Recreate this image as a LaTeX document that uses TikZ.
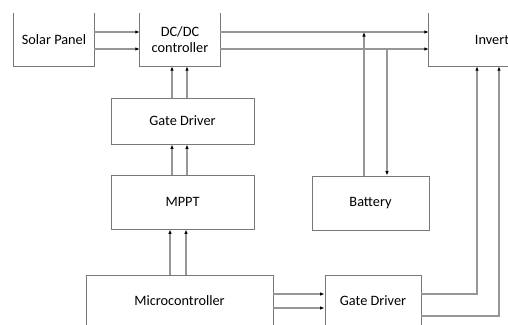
\documentclass[tikz,border=0pt]{standalone}
\usepackage{fontspec}
\setmainfont{Carlito}
\usetikzlibrary{arrows.meta}

\definecolor{boxgray}{RGB}{120,120,120}
\definecolor{linegray}{RGB}{150,150,150}

\tikzset{
    block/.style={draw=boxgray, line width=0.9pt, rectangle, inner sep=0pt, align=center,
        font=\fontsize{14.3}{16.5}\selectfont},
    openblock/.style={rectangle, inner sep=0pt, align=center,
        font=\fontsize{14.3}{16.5}\selectfont},
    arr/.style={draw=linegray, line width=1.3pt,
        -{Latex[length=4.5pt,width=3.5pt,fill=black,color=black]}},
    wire/.style={draw=linegray, line width=1.3pt}
}

\begin{document}
\begin{tikzpicture}[x=1pt, y=-1pt]
    \useasboundingbox (0,0) rectangle (508,324);
    \clip (0,0) rectangle (508,324);

    % top row (top edges cut off)
    \node[openblock, minimum width=80pt, minimum height=53pt] (sp) at (54,39.5) {Solar Panel};
    \node[openblock, minimum width=80pt, minimum height=53pt] (dc) at (180,39.5) {DC/DC\\controller};
    \node[openblock, minimum width=138pt, minimum height=53pt] (inv) at (498,39.5) {Inverter};
    \foreach \b in {sp, dc, inv}
        \draw[boxgray, line width=0.9pt] (\b.north west) -- (\b.south west) -- (\b.south east) -- (\b.north east);

    % blocks
    \node[block, minimum width=143pt, minimum height=46pt] (gd1) at (182.5,121) {Gate Driver};
    \node[block, minimum width=143pt, minimum height=54pt] (mppt) at (182.5,202) {MPPT};
    \node[block, minimum width=117pt, minimum height=54pt] (bat) at (370.5,203) {Battery};
    \node[block, minimum width=187pt, minimum height=52pt] (mc) at (179.5,301) {Microcontroller};
    \node[block, minimum width=96pt, minimum height=52pt] (gd2) at (373,301) {Gate Driver};

    % helper points
    \coordinate (h1) at ([yshift=7.5pt]sp.east);
    \coordinate (h2) at ([yshift=-9.5pt]sp.east);
    \coordinate (v1) at ([xshift=-10.5pt]gd1.north);
    \coordinate (v2) at ([xshift=4.5pt]gd1.north);
    \coordinate (m1) at ([xshift=-12.5pt]mppt.south);
    \coordinate (m2) at ([xshift=3.5pt]mppt.south);
    \coordinate (b1) at ([xshift=-6.5pt]bat.north);
    \coordinate (b2) at ([xshift=16.5pt]bat.north);
    \coordinate (k1) at ([yshift=7pt]mc.east);
    \coordinate (k2) at ([yshift=-7pt]mc.east);
    \coordinate (k3) at ([yshift=-15pt]gd2.east);
    \coordinate (i1) at ([xshift=-21pt]inv.south);
    \coordinate (i2) at ([xshift=1pt]inv.south);

    % power path
    \draw[arr] (h1) -- (dc.west |- h1);
    \draw[arr] (h2) -- (dc.west |- h2);
    \draw[arr] (dc.east |- h1) -- (inv.west |- h1);
    \draw[arr] (dc.east |- h2) -- (inv.west |- h2);

    % battery
    \draw[arr] (b1) -- (b1 |- h1);
    \draw[arr] (b2 |- h2) -- (b2);

    % control chain
    \draw[arr] (v1) -- (dc.south -| v1);
    \draw[arr] (v2) -- (dc.south -| v2);
    \draw[arr] (mppt.north -| v1) -- (gd1.south -| v1);
    \draw[arr] (mppt.north -| v2) -- (gd1.south -| v2);
    \draw[arr] (mc.north -| m1) -- (m1);
    \draw[arr] (mc.north -| m2) -- (m2);
    \draw[arr] (k1) -- (gd2.west |- k1);
    \draw[arr] (k2) -- (gd2.west |- k2);

    % gate driver to inverter
    \draw[arr] (gd2.east |- k1) -| (i1);
    \draw[arr] (k3) -| (i2);
\end{tikzpicture}
\end{document}
